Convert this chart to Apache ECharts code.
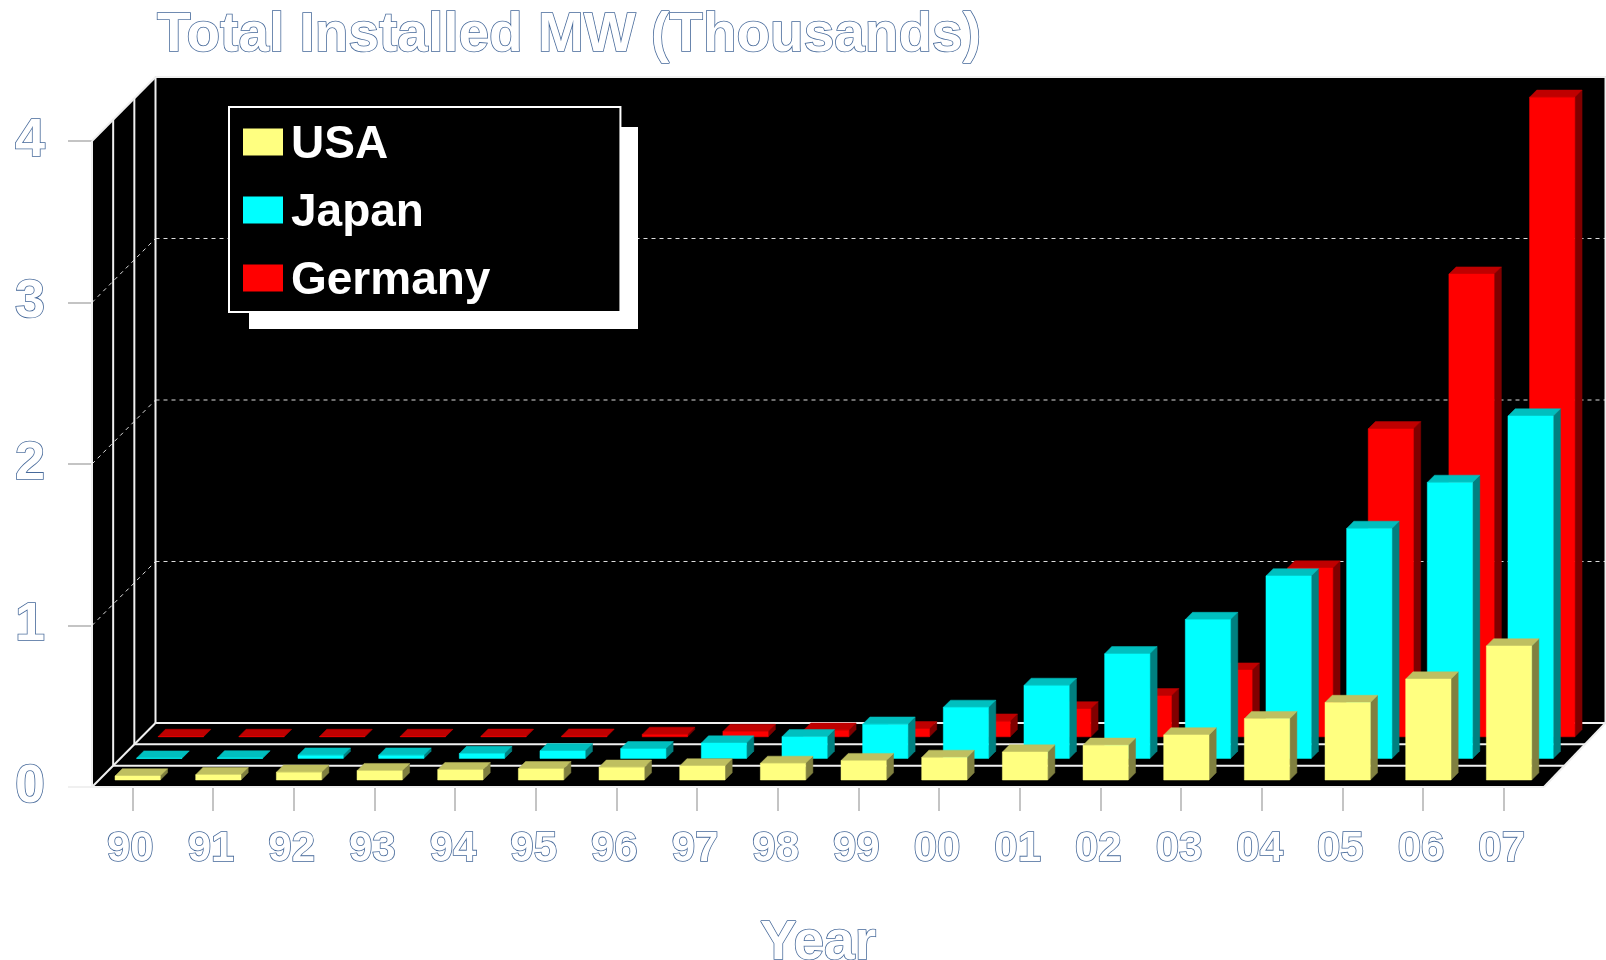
<!DOCTYPE html>
<html>
<head>
<meta charset="utf-8">
<style>html,body{margin:0;padding:0;background:#fff}#c{width:1606px;height:960px}</style>
<script src="https://cdn.jsdelivr.net/npm/echarts@6/dist/echarts.min.js"></script>
</head>
<body>
<div id="c"></div>
<script>
var years = ['90','91','92','93','94','95','96','97','98','99','00','01','02','03','04','05','06','07'];
var usa = [0.025,0.033,0.048,0.058,0.064,0.07,0.079,0.087,0.103,0.12,0.14,0.173,0.215,0.279,0.38,0.48,0.625,0.83];
var japan = [0.002,0.003,0.02,0.02,0.03,0.047,0.06,0.095,0.134,0.212,0.316,0.452,0.648,0.86,1.13,1.424,1.709,2.12];
var germany = [0.002,0.002,0.002,0.002,0.003,0.004,0.015,0.033,0.041,0.05,0.097,0.173,0.254,0.413,1.045,1.907,2.865,3.96];
var yTicks = [1,2,3];

var FONT = '"Liberation Sans", Arial, sans-serif';
var DX = 63.5, DY = 64, DXR = 61.5;
var BAR_W = 45.3, BAR_D = 7.2, ROW_X = 21.6, ROW_Y = 21.6, START_X = -17.3, START_Y = 7;
var LINE = '#f0f0f0';

var outlined = {
  color: '#ffffff', textBorderColor: '#46699a', textBorderWidth: 1.6,
  textShadowColor: '#a87232', textShadowOffsetX: 1.5, textShadowOffsetY: 0, textShadowBlur: 0,
  fontFamily: FONT, fontWeight: 'bold'
};
function txt(size, extra) { return Object.assign({}, outlined, {fontSize: size}, extra || {}); }

function poly(points, fill) {
  return {type: 'polygon', shape: {points: points}, style: {fill: fill, stroke: fill, lineWidth: 0.5}};
}
function seg(x1, y1, x2, y2, dashed) {
  return {type: 'line', shape: {x1: x1, y1: y1, x2: x2, y2: y2},
    style: {stroke: dashed ? '#dcdcdc' : LINE, lineWidth: dashed ? 1 : 2, lineDash: dashed ? [4, 4] : null, fill: null}};
}

function renderBackdrop(params, api) {
  var cs = params.coordSys;
  var L = cs.x, R = cs.x + cs.width, T = cs.y, B = cs.y + cs.height;
  var bk = L + DX, top = T - DY, fl = B - DY, rk = R + DXR;
  var kids = [
    poly([[L,B],[L,T],[bk,top],[bk,fl]], '#000'),
    poly([[bk,top],[rk,top],[rk,fl],[bk,fl]], '#000'),
    poly([[L,B],[bk,fl],[rk,fl],[R,B]], '#000')
  ];
  yTicks.forEach(function (v) {
    var y = api.coord([0, v])[1];
    kids.push(seg(L, y, bk, y - DY, true));
    kids.push(seg(bk, y - DY, rk, y - DY, true));
  });
  [1/3, 2/3].forEach(function (f) {
    var yy = B - DY * f;
    kids.push(seg(L + DX * f, T - DY * f, L + DX * f, yy));
    kids.push(seg(L + DX * f, yy, R + DXR * f, yy));
  });
  kids.push(seg(bk, fl, rk, fl));
  kids.push(seg(bk, top, bk, fl));
  kids.push(seg(L, T, L, B));
  kids.push(seg(L, T, bk, top));
  kids.push(seg(bk, top, rk, top));
  kids.push(seg(rk, top, rk, fl));
  kids.push(seg(L, B, bk, fl));
  kids.push(seg(R, B, rk, fl));
  kids.push(seg(L - 24, B, R, B));
  return {type: 'group', silent: true, children: kids};
}

function boxRenderer(row, front, topc, side) {
  return function (params, api) {
    var p = api.coord([api.value(0), api.value(1)]);
    var b = api.coord([api.value(0), 0]);
    var x0 = p[0] + START_X + ROW_X * row, x1 = x0 + BAR_W;
    var off = START_Y + ROW_Y * row;
    var yb = b[1] - off, yt = p[1] - off;
    return {type: 'group', children: [
      poly([[x1,yb],[x1 + BAR_D,yb - BAR_D],[x1 + BAR_D,yt - BAR_D],[x1,yt]], side),
      poly([[x0,yt],[x1,yt],[x1 + BAR_D,yt - BAR_D],[x0 + BAR_D,yt - BAR_D]], topc),
      poly([[x0,yb],[x1,yb],[x1,yt],[x0,yt]], front)
    ]};
  };
}
function toData(arr) { return arr.map(function (v, i) { return [i, v]; }); }
function barSeries(name, arr, row, z, c1, c2, c3) {
  return {name: name, type: 'custom', z: z, clip: false, silent: true,
    itemStyle: {color: c1}, encode: {x: 0, y: 1},
    renderItem: boxRenderer(row, c1, c2, c3), data: toData(arr)};
}

var chart = echarts.init(document.getElementById('c'), null, {renderer: 'canvas'});
chart.setOption({
  animation: false,
  backgroundColor: '#ffffff',
  title: {text: 'Total Installed MW (Thousands)', left: 157, top: 8,
    padding: 0, textStyle: txt(55)},
  graphic: [{type: 'rect', z: 10, silent: true, shape: {x: 249, y: 127, width: 389, height: 202}, style: {fill: '#ffffff'}}],
  legend: {
    orient: 'vertical', left: 229, top: 107,
    data: ['USA', 'Japan', 'Germany'],
    itemWidth: 40, itemHeight: 27, itemGap: 22, icon: 'rect',
    padding: [15, 130, 8, 14], selectedMode: false,
    backgroundColor: '#000', borderColor: '#fff', borderWidth: 2,
    itemStyle: {borderWidth: 0},
    formatter: '{t|{name}}',
    textStyle: {
      color: '#fff', fontFamily: FONT, fontWeight: 'bold', fontSize: 46,
      rich: {t: {color: '#fff', fontFamily: FONT, fontWeight: 'bold', fontSize: 46, padding: [6, 0, 0, 3]}}
    },
    z: 20
  },
  grid: {left: 92, top: 141, width: 1452, height: 646, containLabel: false, outerBoundsMode: 'none'},
  xAxis: {
    type: 'category', data: years, boundaryGap: true,
    axisLine: {show: false},
    axisTick: {show: true, alignWithLabel: true, length: 24, lineStyle: {color: '#c4c4c4', width: 2}},
    axisLabel: txt(42, {margin: 41, interval: 0, padding: [0, 4, 0, 0]}),
    name: 'Year', nameLocation: 'middle', nameGap: 129,
    nameTextStyle: txt(55)
  },
  yAxis: {
    type: 'value', min: 0, max: 4, interval: 1,
    splitLine: {show: false},
    axisLine: {show: false},
    axisTick: {show: true, length: 24, lineStyle: {color: '#c4c4c4', width: 2}},
    axisLabel: txt(54, {margin: 47, padding: [6, 0, 0, 0], formatter: function (v) { return String(v); }})
  },
  series: [
    {type: 'custom', z: 1, clip: false, silent: true, renderItem: renderBackdrop, data: [[0, 0]], encode: {x: 0, y: 1}},
    barSeries('Germany', germany, 2, 3, '#FF0000', '#BF0000', '#800000'),
    barSeries('Japan', japan, 1, 4, '#00FFFF', '#00BFBF', '#008080'),
    barSeries('USA', usa, 0, 5, '#FFFF80', '#BFBF60', '#808040')
  ]
});
</script>
</body>
</html>
